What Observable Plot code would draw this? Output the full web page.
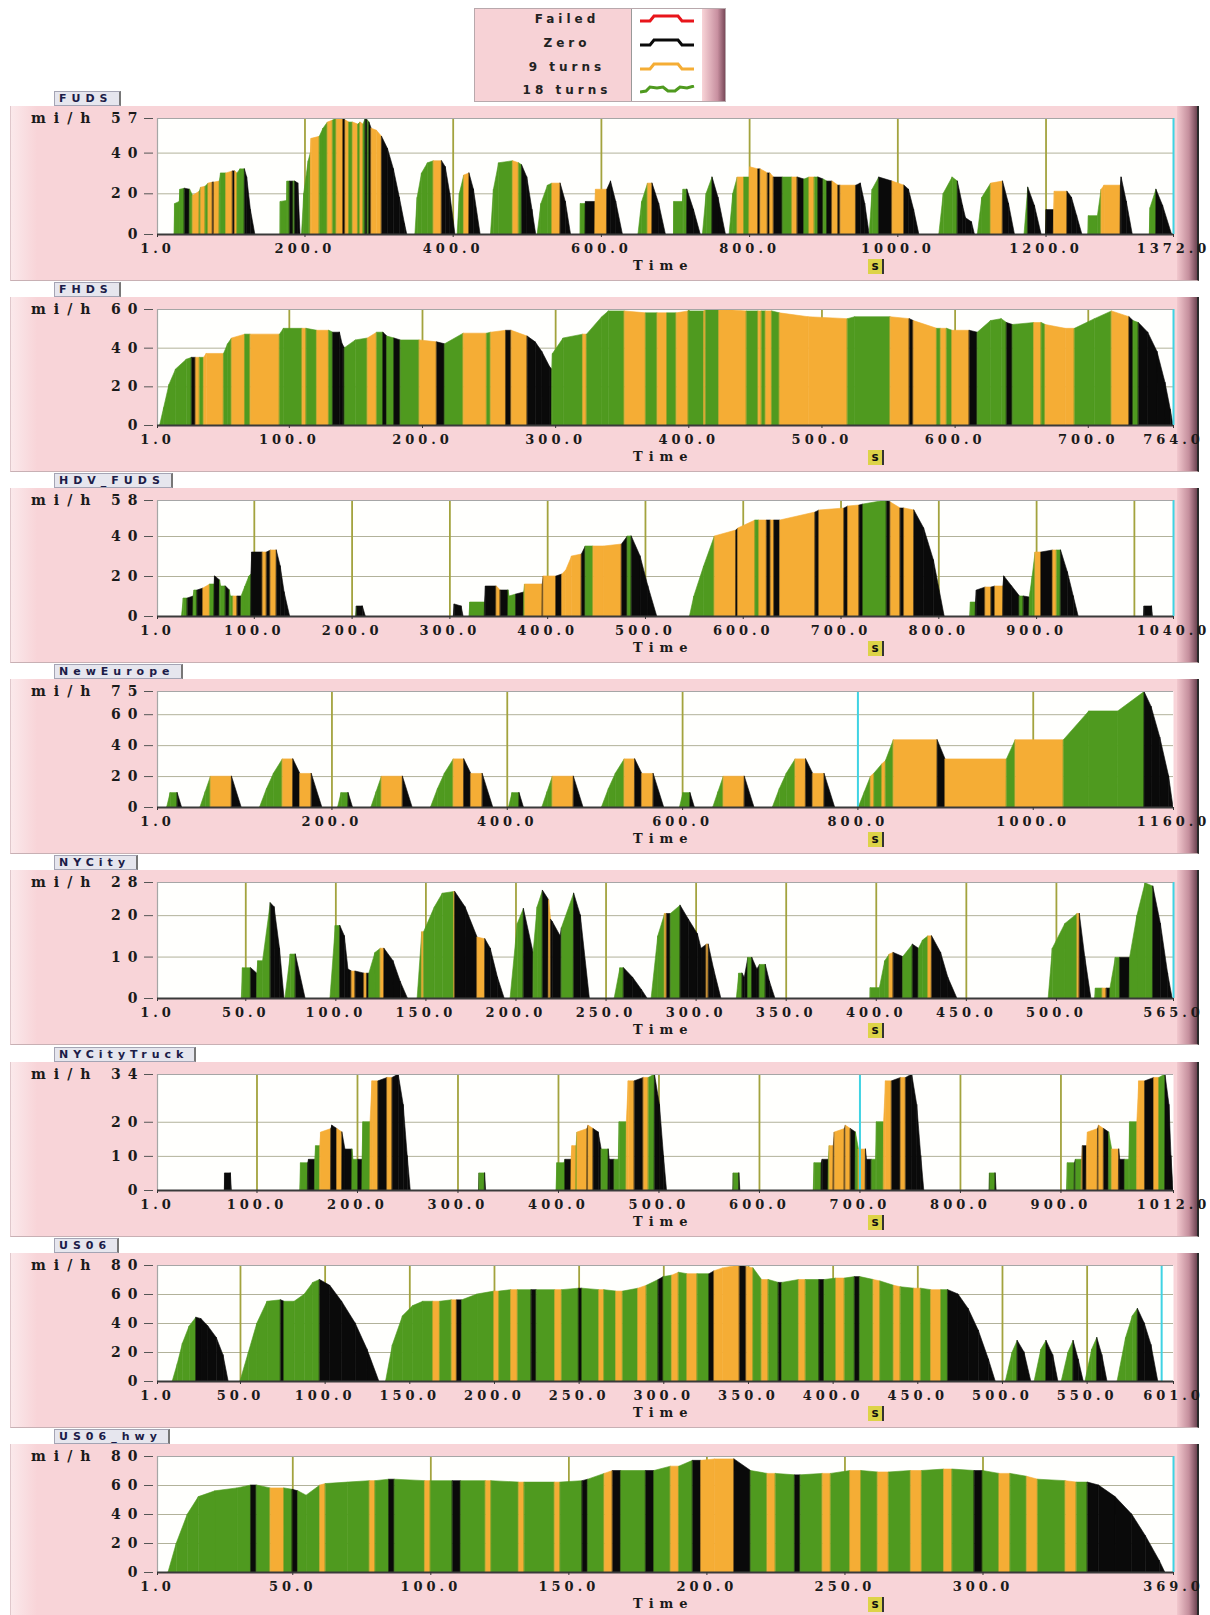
<!DOCTYPE html>
<html><head><meta charset="utf-8">
<script src="https://cdn.jsdelivr.net/npm/d3@7"></script>
<script src="https://cdn.jsdelivr.net/npm/@observablehq/plot@0.6"></script>
<style>
body{margin:0;background:#fff;width:1210px;height:1615px;overflow:hidden;position:relative;font-family:"DejaVu Sans",sans-serif;}
.panel{position:absolute;left:10px;width:1167px;height:174px;background:linear-gradient(to right,#fbe9eb 0px,#f8d4d8 26px,#f8d4d8 100%);border-left:1px solid #e0c8cc;border-bottom:1px solid #c8b0b4;z-index:0;}
.redge{position:absolute;left:1177px;width:20px;height:174px;background:linear-gradient(to right,#f2c8ce,#c48e9c 60%,#6e4452);border-right:2px solid #2a2a2a;border-bottom:1px solid #c8b0b4;z-index:0;}
.pw{position:absolute;left:0;z-index:1;}
.pw svg text{font-family:"DejaVu Serif",serif;font-weight:bold;}
.pw g[aria-label="x-axis tick label"] text{letter-spacing:4px;font-size:13px;}
.pw g[aria-label="y-axis tick label"] text{letter-spacing:7px;font-size:14px;}
.tab{position:absolute;left:54px;height:13px;line-height:13px;padding:0 6px 0 4px;background:#e6e6ee;border:1px solid #a4a4b4;border-right:2px solid #777;font:bold 11px "DejaVu Sans",sans-serif;letter-spacing:5px;color:#1c1c48;z-index:4;white-space:nowrap;}
.ylab{position:absolute;left:31px;font:bold 14px "DejaVu Serif",serif;letter-spacing:8px;color:#1a1a1a;z-index:4;}
.tlab{position:absolute;left:633px;font:bold 13px "DejaVu Serif",serif;letter-spacing:6px;color:#1a1a1a;z-index:4;}
.sbox{position:absolute;left:868px;width:14px;height:15px;line-height:15px;text-align:center;background:#ddd347;border-right:2px solid #333;font:bold 12px "DejaVu Sans",sans-serif;color:#111;z-index:4;}
.legend{position:absolute;left:474px;top:8px;width:250px;height:92px;background:linear-gradient(to right,#f7d2d6 0%,#f7d2d6 91%,#c890a0 97%,#7a4a5a 100%);border:1px solid #b8a8ac;z-index:5;}
.legend .sw{position:absolute;left:156px;top:0;width:70px;height:92px;background:#fff;border-left:1px solid #999;}
.legend .lab{position:absolute;left:22px;width:140px;text-align:center;font:bold 12px "DejaVu Sans",sans-serif;letter-spacing:4px;color:#222;white-space:nowrap;line-height:14px;}
.legend svg{position:absolute;left:165px;}
</style>
</head><body>
<script>
// ---- legend ----
const legendLabels = ["Failed", "Zero", "9 turns", "18 turns"];
const legendColors = ["#e8151b", "#0a0a0a", "#f5ad35", "#4f9a1f"];

// ---- colour of each interval: g = 18 turns, o = 9 turns, k = Zero, r = Failed ----
const modeColors = {g: "#4f9a1f", o: "#f5ad35", k: "#0a0a0a", r: "#e8151b"};

// ---- speed profiles: [time s, speed mi/h, mode of the interval that starts here] ----
const FUDS = [[1,0,'k'],[24,0,'g'],[25,15,'g'],[31,16,'g'],[32,22,'g'],[38,22.5,'k'],[45,22,'g'],[49,19,'o'],[58,21,'g'],[60,23,'o'],[66,23.5,'g'],[70,25,'o'],[76,25.5,'k'],[78,25.5,'o'],[85,26,'g'],[87,30,'g'],[94,30,'o'],[103,31,'k'],[106,31,'o'],[109,30,'g'],[113,32,'g'],[119,32,'k'],[122,28,'k'],[127,12,'k'],[133,0,'k'],
[167,0,'g'],[167.5,16,'g'],[176,16.5,'g'],[176.5,26,'g'],[180,26,'k'],[185,26,'g'],[187,26,'k'],[191,25,'k'],[194,0,'k'],
[196,0,'g'],[199,20,'g'],[205,36,'g'],[208,40,'o'],[209,47,'o'],[220,48,'g'],[225,52,'g'],[231,55,'o'],[238,56,'g'],[243,57,'o'],[252,57,'k'],[255,56,'o'],[260,55,'g'],[265,55,'o'],[272,54,'g'],[275,55,'o'],[279,54,'g'],[282,57,'k'],[285,56,'g'],[287,55,'k'],[290,52,'o'],[297,51,'o'],[304,48,'k'],[312,42,'k'],[320,32,'k'],[328,18,'k'],[335,5,'k'],[338,0,'k'],
[349,0,'g'],[352,18,'g'],[358,30,'g'],[366,35,'g'],[374,36,'o'],[385,36,'k'],[390,33,'k'],[396,20,'k'],[403,0,'k'],
[406,0,'g'],[409,20,'g'],[415,29,'o'],[422,30,'k'],[428,22,'k'],[437,0,'k'],
[451,0,'g'],[455,22,'g'],[462,35,'g'],[481,36,'o'],[489,35,'g'],[493,34,'k'],[500,28,'k'],[507,12,'k'],[512,0,'k'],
[514,0,'g'],[519,15,'g'],[528,24,'g'],[534,25,'o'],[545,25,'k'],[552,16,'k'],[559,0,'k'],
[572,0,'g'],[572.5,15,'g'],[579,15,'k'],[579.5,16,'k'],[592,16,'o'],[593,22,'o'],[608,22,'k'],[613,26,'k'],[620,16,'k'],[629,0,'k'],
[650,0,'g'],[655,16,'g'],[663,25,'o'],[669,25,'k'],[678,15,'k'],[687,0,'k'],
[698,0,'g'],[698.5,16,'g'],[710,16,'g'],[711,22,'g'],[716,22,'k'],[725,12,'k'],[734,0,'k'],
[737,0,'g'],[742,20,'g'],[750,28,'k'],[758,18,'k'],[768,0,'k'],
[773,0,'g'],[778,20,'g'],[784,28,'o'],[793,28,'g'],[800,28,'o'],[801,33,'o'],[812,32,'k'],[815,32,'o'],[825,30,'k'],[828,30,'o'],[833,28,'k'],[845,28,'g'],[858,28,'o'],[865,28,'k'],[874,27,'g'],[881,28,'o'],[888,28,'g'],[893,28,'k'],[900,27,'g'],[905,26,'k'],[912,26,'o'],[920,24,'k'],[923,24,'o'],[944,24,'k'],[950,25,'k'],[956,15,'k'],[962,0,'k'],
[962,0,'g'],[966,22,'g'],[975,28,'k'],[993,26,'o'],[1009,24,'k'],[1015,22,'k'],[1022,12,'k'],[1029,0,'k'],
[1056,0,'g'],[1062,20,'g'],[1074,28,'g'],[1081,26,'k'],[1088,14,'k'],[1092,8,'k'],[1100,6,'k'],[1104,0,'k'],
[1108,0,'g'],[1114,18,'g'],[1126,25,'o'],[1142,26,'k'],[1150,15,'k'],[1158,0,'k'],
[1171,0,'g'],[1176,23,'k'],[1185,14,'k'],[1194,0,'k'],
[1200,0,'k'],[1201,12,'k'],[1211,12,'o'],[1212,21,'o'],[1229,21,'k'],[1235,18,'k'],[1242,9,'k'],[1249,0,'k'],
[1257,0,'g'],[1258,9,'g'],[1270,9,'g'],[1275,22,'o'],[1279,24,'o'],[1301,24,'k'],[1302,28,'k'],[1309,16,'k'],[1317,0,'k'],
[1340,0,'g'],[1341,13,'g'],[1349,22,'k'],[1358,14,'k'],[1370,0,'k'],[1372,0,'k']];

const FHDS = [[1,0,'g'],[3,0,'g'],[6,9,'g'],[10,21,'g'],[15,29,'g'],[23,34,'g'],[27,35,'k'],[30,35,'o'],[33,35,'g'],[36,35,'o'],[38,37,'o'],[51,37,'g'],[54,42,'g'],[57,45,'o'],[67,47,'g'],[71,47,'o'],[93,47,'g'],[96,50,'g'],[110,50,'o'],[113,50,'g'],[121,49,'o'],[130,49,'g'],[133,48,'k'],[138,48,'k'],[140,42,'k'],[141.8,40,'g'],[150,44,'g'],[159,45,'o'],[166,48,'g'],[170.7,48,'k'],[173.6,46,'g'],[179,45,'k'],[183.7,44,'g'],[198,44,'o'],[211,43,'k'],[217,42,'g'],[231,47.5,'o'],[248.6,47.5,'g'],[251.5,48,'o'],[263,49,'k'],[267,49,'o'],[279,46,'k'],[285,43,'k'],[290,38,'k'],[296,30,'k'],[297.5,29,'g'],[298,37,'g'],[306,45,'g'],[320.8,47,'o'],[323.6,47,'g'],[335,56,'g'],[340,59,'g'],[352,59,'o'],[368,58,'g'],[376.7,58,'o'],[384,58,'g'],[391,58,'o'],[400,59,'g'],[411.7,59,'o'],[413,60,'g'],[423,60,'o'],[443.7,59,'g'],[452.5,59,'o'],[455,59,'g'],[458,59,'o'],[462.7,59,'g'],[468.5,58,'o'],[490,56,'o'],[519.5,55,'g'],[525,56,'g'],[551.6,56,'o'],[566,55,'k'],[569,54,'o'],[586.6,50,'g'],[589.5,50,'o'],[594,50,'g'],[598,49,'o'],[611,49,'k'],[617,48,'g'],[627,54,'g'],[635,55,'g'],[639,53,'k'],[643.4,52,'g'],[659.5,53,'o'],[665,53,'g'],[668,52,'o'],[683,50,'o'],[690,50,'g'],[705,55,'g'],[717.8,59,'o'],[731,56,'k'],[734,54,'g'],[738,53,'k'],[745,48,'k'],[752,38,'k'],[758,22,'k'],[762,8,'k'],[764,0,'k']];

const HDV_FUDS = [[1,0,'k'],[26,0,'g'],[28,9,'g'],[32,9,'k'],[38,10,'g'],[39,13,'g'],[42,13,'k'],[48,14,'o'],[55,16,'g'],[59.5,16,'k'],[60,20,'k'],[65,18,'g'],[66,15,'g'],[71,15,'k'],[75,13,'g'],[76,10,'g'],[79,10,'o'],[83,10,'k'],[87,10,'g'],[91,15,'g'],[95,20,'g'],[97,21,'k'],[98,32,'k'],[109,32,'o'],[113,32,'k'],[117,33,'o'],[123,33,'k'],[127,25,'k'],[131,12,'k'],[136.6,0,'k'],
[204,0,'g'],[205,5,'k'],[211,5,'k'],[214,0,'k'],
[304,0,'k'],[305,6,'k'],[312,5,'k'],[314,0,'k'],[320,0,'g'],[321,7,'g'],[336,7,'k'],[337,15,'k'],[348,15,'o'],[352,13,'k'],[360,13,'g'],[361,10,'g'],[368,11,'k'],[376,12,'g'],[377,16,'o'],[395,16,'k'],[396,20,'o'],[409,20,'k'],[415,21,'o'],[419,23,'o'],[425,30,'o'],[435,31,'k'],[439,35,'g'],[447,35,'o'],[458,35,'o'],[476,36,'k'],[482,40,'g'],[486,40,'k'],[495,30,'k'],[503,15,'k'],[512,0,'k'],
[545.5,0,'g'],[550,10,'g'],[560,25,'g'],[571,40,'o'],[593,43,'k'],[595,44,'o'],[612.6,48,'g'],[616.6,48,'o'],[624.5,48,'k'],[628.5,48,'o'],[632,48,'k'],[638,48,'o'],[674,52,'k'],[678,53,'o'],[703.6,54,'k'],[707.5,55,'o'],[719,55.5,'k'],[723,56,'g'],[747,58,'k'],[751,57,'o'],[761,54,'k'],[765,54,'o'],[775,53,'k'],[785,44,'k'],[795,28,'k'],[806,0,'k'],
[832,0,'g'],[833,7,'g'],[838,7,'k'],[839,13,'k'],[848,14.5,'o'],[854,14.5,'k'],[858,15,'o'],[866,15,'k'],[867,20,'k'],[875,15,'k'],[883,10,'g'],[887,10,'k'],[893,9.5,'g'],[896,20,'g'],[899,32,'o'],[905,32,'k'],[917,33,'o'],[921,33,'g'],[925,33,'k'],[932,22,'k'],[938,10,'k'],[943,0,'k'],
[1010,0,'k'],[1010.5,5,'k'],[1018,5,'k'],[1019,0,'k'],[1040,0,'k']];

const NewEurope = [[1,0,'k'],[12,0,'g'],[16,9.3,'g'],[24,9.3,'k'],[29,0,'k'],
[50,0,'g'],[56,10,'g'],[62,19.9,'o'],[86,19.9,'k'],[97,0,'k'],
[118,0,'g'],[126,12,'g'],[134,22,'g'],[144,31.1,'o'],[156,31.1,'k'],[164,21.7,'o'],[177,21.7,'k'],[189,0,'k'],
[207,0,'g'],[211,9.3,'g'],[219,9.3,'k'],[224,0,'k'],
[245,0,'g'],[251,10,'g'],[257,19.9,'o'],[281,19.9,'k'],[292,0,'k'],
[313,0,'g'],[321,12,'g'],[329,22,'g'],[339,31.1,'o'],[351,31.1,'k'],[359,21.7,'o'],[372,21.7,'k'],[384,0,'k'],
[402,0,'g'],[406,9.3,'g'],[414,9.3,'k'],[419,0,'k'],
[440,0,'g'],[446,10,'g'],[452,19.9,'o'],[476,19.9,'k'],[487,0,'k'],
[508,0,'g'],[516,12,'g'],[524,22,'g'],[534,31.1,'o'],[546,31.1,'k'],[554,21.7,'o'],[567,21.7,'k'],[579,0,'k'],
[597,0,'g'],[601,9.3,'g'],[609,9.3,'k'],[614,0,'k'],
[635,0,'g'],[641,10,'g'],[647,19.9,'o'],[671,19.9,'k'],[682,0,'k'],
[703,0,'g'],[711,12,'g'],[719,22,'g'],[729,31.1,'o'],[741,31.1,'k'],[749,21.7,'o'],[762,21.7,'k'],[774,0,'k'],
[801,0,'g'],[808,10,'g'],[815,20,'o'],[819,22,'g'],[828,28,'o'],[832,30,'g'],[841,43.5,'o'],[891,43.5,'k'],[900,31.1,'o'],[970,31.1,'g'],[980,43.5,'o'],[1035,43.5,'g'],[1064,62.1,'g'],[1097,62.1,'g'],[1127,74.6,'k'],[1135,65,'k'],[1145,45,'k'],[1155,20,'k'],[1160,0,'k']];

const NYCity = [[1,0,'k'],[47.8,0,'g'],[48.5,7.3,'g'],[53,7.3,'k'],[56.4,6,'g'],[57,9,'g'],[59.6,9,'g'],[63.9,23,'k'],[66,22,'k'],[69,12,'k'],[71.5,0,'k'],
[72,0,'g'],[75,10.6,'g'],[77.8,10.6,'k'],[83.2,0,'k'],
[97,0,'g'],[100,17.5,'g'],[102.5,17.5,'k'],[105,15,'k'],[107,7,'k'],[109,6.5,'o'],[111,6.5,'k'],[116,6,'o'],[117.5,6,'k'],[118.6,6,'g'],[122,11,'g'],[125,12,'o'],[127,12,'k'],[132,9,'k'],[136,4,'k'],[140,0,'k'],
[145.4,0,'g'],[148,16,'o'],[149,16,'g'],[155,22,'g'],[159.4,25.3,'g'],[165.8,25.7,'o'],[166.3,25.7,'k'],[172,22,'k'],[178.7,14.7,'o'],[183,14.3,'k'],[186,12,'k'],[190,5,'k'],[193.7,0,'k'],
[197,0,'g'],[201,18,'g'],[204.4,21.6,'k'],[209.8,11,'g'],[212,22,'g'],[215,26,'k'],[218.4,23.7,'o'],[219.5,19,'k'],[220.5,18.4,'k'],[224.8,15,'k'],[225.5,17,'g'],[232.3,25.3,'k'],[236,20,'k'],[241,0,'k'],
[254.8,0,'g'],[258,7.3,'g'],[260,7.3,'k'],[265,5,'k'],[270,2,'k'],[273,0,'k'],
[275.3,0,'g'],[279,15,'g'],[282.8,20.4,'o'],[283.9,20.4,'k'],[286,20.4,'g'],[291.4,22.4,'k'],[296,19,'k'],[301,15.5,'k'],[303,12,'k'],[306,13,'o'],[307,13,'k'],[310,7,'k'],[314,0,'k'],
[322.6,0,'g'],[324,6,'g'],[325.8,6,'k'],[327,5,'k'],[329,9.8,'g'],[331.2,9.8,'k'],[334,7,'k'],[335.5,8.1,'g'],[338.7,8.1,'k'],[341,4,'k'],[344,0,'k'],
[396.8,0,'g'],[397,2.5,'g'],[402,2.5,'g'],[405,9,'g'],[407.5,10.6,'o'],[409.7,11,'k'],[415,10,'g'],[420.4,13,'k'],[423.7,12,'g'],[426,14,'g'],[429,15,'o'],[431,15,'k'],[436,11,'k'],[440,5,'k'],[445,0,'k'],
[495.7,0,'g'],[498,12,'g'],[505,18,'g'],[511.8,20.4,'o'],[513,20.4,'k'],[516,10,'k'],[519.4,0,'k'],
[521.5,0,'g'],[522,2.4,'g'],[525.8,2.4,'o'],[528,2.4,'k'],[530,2.4,'g'],[533,9.8,'g'],[535.5,9.8,'k'],[540.9,9.8,'g'],[545,20,'g'],[549.5,27.8,'g'],[553.8,27,'k'],[558,18,'k'],[562,6,'k'],[564.5,0,'k'],[565,0,'k']];

const NYCityTruck = [[1,0,'k'],[68,0,'k'],[68.5,5,'k'],[74,5,'k'],[75,0,'k'],
[143,0,'g'],[144,8,'g'],[151,8,'k'],[152,9,'k'],[158,9,'g'],[159,13,'g'],[163,13,'o'],[164,17,'o'],[174,18,'k'],[175,19,'k'],[180,18,'o'],[185,17,'k'],[188,12,'k'],[195,12,'g'],[196,9,'g'],[201,9,'k'],[205,9,'g'],[206,20,'g'],[213,20,'o'],[215,32,'o'],[221,32,'k'],[230,33,'o'],[235,33,'k'],[241,34,'k'],[246,25,'k'],[250,10,'k'],[253,0,'k'],
[321,0,'k'],[321.5,5,'g'],[327,5,'k'],[328,0,'k'],
[398,0,'g'],[399,8,'g'],[406,8,'g'],[407,9,'k'],[413,9,'o'],[414,13,'o'],[418,13,'g'],[419,17,'o'],[429,18,'k'],[430,19,'o'],[435,18,'k'],[440,17,'k'],[443,12,'g'],[450,12,'k'],[451,9,'k'],[456,9,'g'],[460,9,'g'],[461,20,'g'],[468,20,'o'],[470,32,'o'],[476,32,'k'],[485,33,'o'],[490,33,'g'],[496,34,'k'],[501,25,'k'],[505,10,'k'],[508,0,'k'],
[574,0,'k'],[574.5,5,'g'],[580,5,'k'],[581,0,'k'],
[654,0,'g'],[655,8,'g'],[662,8,'k'],[663,9,'k'],[669,9,'g'],[670,13,'o'],[674,13,'k'],[675,17,'o'],[685,18,'k'],[686,19,'o'],[691,18,'k'],[696,17,'g'],[699,12,'o'],[706,12,'k'],[707,9,'k'],[712,9,'g'],[716,9,'g'],[717,20,'g'],[724,20,'o'],[726,32,'o'],[732,32,'k'],[741,33,'o'],[746,33,'k'],[752,34,'k'],[757,25,'k'],[761,10,'k'],[764,0,'k'],
[829,0,'k'],[829.5,5,'g'],[835,5,'k'],[836,0,'k'],
[906,0,'g'],[907,8,'g'],[914,8,'k'],[915,9,'g'],[921,9,'o'],[922,13,'k'],[926,13,'o'],[927,17,'o'],[937,18,'k'],[938,19,'o'],[943,18,'k'],[948,17,'g'],[951,12,'o'],[958,12,'k'],[959,9,'k'],[964,9,'g'],[968,9,'g'],[969,20,'g'],[976,20,'o'],[978,32,'o'],[984,32,'k'],[993,33,'o'],[998,33,'g'],[1004,34,'k'],[1008,25,'k'],[1010,10,'k'],[1012,0,'k']];

const US06 = [[1,0,'k'],[10,0,'g'],[13,12,'g'],[16,26,'g'],[20,38,'g'],[24,44,'k'],[27,43,'k'],[31,38,'k'],[36,30,'k'],[40,18,'k'],[43,0,'k'],
[50,0,'g'],[55,20,'g'],[60,40,'g'],[66,55,'g'],[74,56,'k'],[76,55,'g'],[82,55,'g'],[88,60,'g'],[93,68,'g'],[97,70,'k'],[103,66,'k'],[110,55,'k'],[118,40,'k'],[125,22,'k'],[132,0,'k'],
[136,0,'g'],[140,25,'g'],[146,45,'g'],[152,52,'g'],[158,55,'g'],[164,55,'o'],[168,55,'g'],[175,56,'o'],[178,56,'k'],[181,56,'g'],[190,60,'g'],[200,62,'o'],[203,62,'g'],[210,63,'o'],[214,63,'g'],[222,63,'k'],[225,63,'g'],[236,63,'o'],[240,63,'g'],[250,64,'k'],[252,64,'g'],[262,63,'o'],[265,63,'g'],[272,62,'o'],[276,62,'g'],[285,64,'o'],[290,66,'g'],[297,70,'k'],[300,72,'g'],[305,73,'o'],[309,75,'g'],[314,74,'o'],[320,74,'g'],[327,74,'k'],[330,76,'o'],[335,78,'o'],[345,80,'k'],[349,79,'o'],[353,78,'g'],[358,70,'o'],[362,70,'g'],[368,68,'k'],[370,68,'g'],[380,70,'o'],[384,70,'g'],[392,70,'k'],[395,70,'g'],[402,71,'o'],[407,71,'g'],[413,72,'k'],[416,72,'g'],[424,70,'o'],[428,69,'g'],[436,66,'o'],[440,65,'g'],[448,64,'o'],[452,64,'g'],[458,63,'o'],[464,63,'g'],[468,63,'k'],[474,60,'k'],[480,50,'k'],[486,35,'k'],[492,15,'k'],[496,0,'k'],
[502,0,'g'],[506,20,'g'],[509,28,'k'],[513,20,'k'],[517,0,'k'],
[519,0,'g'],[523,22,'g'],[526,28,'k'],[530,18,'k'],[533,0,'k'],
[535,0,'g'],[539,20,'g'],[542,28,'k'],[545,15,'k'],[548,0,'k'],
[549,0,'g'],[553,22,'g'],[556,30,'k'],[559,18,'k'],[562,0,'k'],
[568,0,'g'],[573,30,'g'],[577,45,'g'],[580,50,'k'],[584,40,'k'],[588,25,'k'],[592,0,'k'],[601,0,'k']];

const US06_hwy = [[1,0,'k'],[5,0,'g'],[8,20,'g'],[12,40,'g'],[16,52,'g'],[22,56,'g'],[30,58,'g'],[35,60,'k'],[37,60,'g'],[42,58,'o'],[47,58,'g'],[50,57,'k'],[52,56,'g'],[55,53,'g'],[60,60,'o'],[62,61,'g'],[70,62,'g'],[78,63,'o'],[80,63,'g'],[85,64,'k'],[87,64,'g'],[98,63,'o'],[100,63,'g'],[108,63,'k'],[111,63,'g'],[120,63,'o'],[122,63,'g'],[132,62,'o'],[134,62,'g'],[145,62,'o'],[147,62,'g'],[155,63,'k'],[157,64,'g'],[163,68,'o'],[166,70,'k'],[169,70,'g'],[178,70,'k'],[181,70,'g'],[187,73,'o'],[190,73,'g'],[195,77,'k'],[198,77,'o'],[203,78,'o'],[210,78,'k'],[216,70,'g'],[222,68,'o'],[225,68,'g'],[232,67,'k'],[234,67,'g'],[242,68,'o'],[245,68,'g'],[252,70,'o'],[256,70,'g'],[262,69,'o'],[266,69,'g'],[274,70,'o'],[278,70,'g'],[286,71,'o'],[289,71,'g'],[297,70,'k'],[300,70,'g'],[306,68,'o'],[310,68,'g'],[316,66,'o'],[320,64,'g'],[330,63,'o'],[334,62,'g'],[338,62,'k'],[342,60,'k'],[348,52,'k'],[354,40,'k'],[359,25,'k'],[364,8,'k'],[366,0,'k'],[369,0,'k']];

// ---- axes ----
const panelNames = ["FUDS","FHDS","HDV_FUDS","NewEurope","NYCity","NYCityTruck","US06","US06_hwy"];
const xTickLabels = [
  [1,200,400,600,800,1000,1200,1372],
  [1,100,200,300,400,500,600,700,764],
  [1,100,200,300,400,500,600,700,800,900,1040],
  [1,200,400,600,800,1000,1160],
  [1,50,100,150,200,250,300,350,400,450,500,565],
  [1,100,200,300,400,500,600,700,800,900,1012],
  [1,50,100,150,200,250,300,350,400,450,500,550,601],
  [1,50,100,150,200,250,300,369]];
const xGridLines = [
  [200,400,600,800,1000,1200],
  [100,200,300,400,500,600,700],
  [100,200,300,400,500,600,700,800,900,1000],
  [200,400,600,1000],
  [50,100,150,200,250,300,350,400,450,500],
  [100,200,300,400,500,600,800,900],
  [50,100,150,200,250,300,350,400,450,500,550],
  [50,100,150,200,250,300]];
const cursorAt = [1372, 764, 1040, 800, 565, 700, 594, 369];
const yTickLabels = [[0,20,40,57],[0,20,40,60],[0,20,40,58],[0,20,40,60,75],[0,10,20,28],[0,10,20,34],[0,20,40,60,80],[0,20,40,60,80]];
const profiles = [FUDS, FHDS, HDV_FUDS, NewEurope, NYCity, NYCityTruck, US06, US06_hwy];

// ---- legend ----
const lg = document.createElement("div");
lg.className = "legend";
lg.innerHTML = '<div class="sw"></div>';
const rowsY = [10, 34, 58, 81];
legendLabels.forEach((lab, i) => {
  const d = document.createElement("div");
  d.className = "lab"; d.textContent = lab; d.style.top = (rowsY[i] - 7) + "px";
  lg.appendChild(d);
  const pts = i === 3 ? "0,7 6,6 10,2 17,3 23,2 28,6 35,6 40,2 47,3 54,1" : "0,7 10,7 14,2 38,2 42,7 54,7";
  const s = document.createElementNS("http://www.w3.org/2000/svg", "svg");
  s.setAttribute("width", 56); s.setAttribute("height", 10);
  s.style.top = (rowsY[i] - 5) + "px";
  s.innerHTML = `<polyline points="${pts}" fill="none" stroke="${legendColors[i]}" stroke-width="3"/>`;
  lg.appendChild(s);
});
document.body.appendChild(lg);

// ---- panels ----
const STEP = 191.1;
profiles.forEach((prof, i) => {
  const Z = 234 + STEP * i;          // y of the zero line
  const top = Z - 128;               // top of the pink panel
  const ymax = yTickLabels[i][yTickLabels[i].length - 1];
  const xend = xTickLabels[i][xTickLabels[i].length - 1];

  const panel = document.createElement("div");
  panel.className = "panel"; panel.style.top = top + "px";
  document.body.appendChild(panel);
  const re = document.createElement("div");
  re.className = "redge"; re.style.top = top + "px";
  document.body.appendChild(re);

  const tab = document.createElement("div");
  tab.className = "tab"; tab.textContent = panelNames[i]; tab.style.top = (top - 15) + "px";
  document.body.appendChild(tab);
  const yl = document.createElement("div");
  yl.className = "ylab"; yl.textContent = "mi/h"; yl.style.top = (top + 4) + "px";
  document.body.appendChild(yl);
  const tl = document.createElement("div");
  tl.className = "tlab"; tl.textContent = "Time"; tl.style.top = (Z + 24) + "px";
  document.body.appendChild(tl);
  const sb = document.createElement("div");
  sb.className = "sbox"; sb.textContent = "s"; sb.style.top = (Z + 25) + "px";
  document.body.appendChild(sb);

  const rows = [];
  for (let j = 0; j < prof.length - 1; j++) {
    const [t0, v0, m] = prof[j];
    const [t1, v1] = prof[j + 1];
    if (v0 === 0 && v1 === 0) continue;
    rows.push({t: t0, v: v0, seg: j, col: modeColors[m]});
    rows.push({t: t1, v: v1, seg: j, col: modeColors[m]});
  }
  const yGrid = yTickLabels[i].filter(v => v > 0 && v < ymax);

  const svg = Plot.plot({
    width: 1210, height: 174,
    marginLeft: 157, marginRight: 37, marginTop: 12, marginBottom: 46,
    x: {domain: [1, xend]},
    y: {domain: [0, ymax]},
    color: {type: "identity"},
    style: {background: "transparent", color: "#1a1a1a", overflow: "visible"},
    marks: [
      Plot.frame({fill: "#fffffd", stroke: "none"}),
      Plot.ruleY(yGrid, {stroke: "#b2b29a", strokeWidth: 1}),
      Plot.ruleX(xGridLines[i], {stroke: "#a3a33e", strokeWidth: 1.8}),
      Plot.areaY(rows, {x: "t", y1: 0, y2: "v", z: "seg", fill: "col", stroke: "col", strokeWidth: 0.6, clip: true}),
      Plot.ruleX([cursorAt[i]], {stroke: "#3fd3e3", strokeWidth: 2}),
      Plot.ruleY([ymax], {stroke: "#a6a6a6", strokeWidth: 1.2}),
      Plot.ruleX([1], {stroke: "#a6a6a6", strokeWidth: 1.2}),
      Plot.ruleY([0], {stroke: "#3a3a3a", strokeWidth: 2}),
      Plot.axisX(xTickLabels[i], {tickFormat: d => d.toFixed(1), tickSize: 3, tickPadding: 6, fontSize: 13, label: null, stroke: "#333"}),
      Plot.axisY(yTickLabels[i], {tickFormat: d => String(d), tickSize: 9, tickPadding: 0, dx: -4, fontSize: 14, label: null, stroke: "#555"})
    ]
  });
  const w = document.createElement("div");
  w.className = "pw"; w.style.top = top + "px";
  w.appendChild(svg);
  document.body.appendChild(w);
});
</script>
</body></html>
